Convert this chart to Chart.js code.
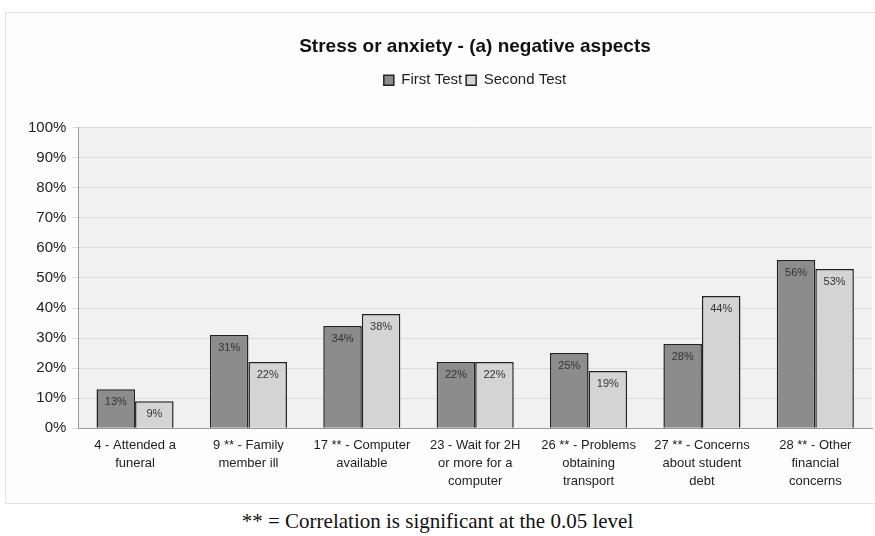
<!DOCTYPE html>
<html>
<head>
<meta charset="utf-8">
<script src="https://cdn.jsdelivr.net/npm/chart.js@4/dist/chart.umd.min.js"></script>
<style>
    body { margin: 0; background: #fff; overflow: hidden; width: 875px; height: 536px; position: relative; }
    #box { position: absolute; left: 5px; top: 12px; width: 875px; height: 490px; border: 1px solid #e2e2e2; background: #fdfdfd; overflow: hidden; }
    #box canvas { position: absolute; left: 0; top: 0; }
    #note { position: absolute; left: 0; width: 875px; top: 509px; text-align: center; font-family: "Liberation Serif", "Times New Roman", serif; font-size: 21px; color: #111; }
</style>
</head>
<body>
<div id="box"><canvas id="chart" width="870" height="490"></canvas></div>
<div id="note">** = Correlation is significant at the 0.05 level</div>
<script>
// Data
const categories = [
    ['4 - Attended a', 'funeral'],
    ['9 ** - Family', 'member ill'],
    ['17 ** - Computer', 'available'],
    ['23 - Wait for 2H', 'or more for a', 'computer'],
    ['26 ** - Problems', 'obtaining', 'transport'],
    ['27 ** - Concerns', 'about student', 'debt'],
    ['28 ** - Other', 'financial', 'concerns']
];
const firstTest = [13, 31, 34, 22, 25, 28, 56];
const secondTest = [9, 22, 38, 22, 19, 44, 53];
const yTicks = [0, 10, 20, 30, 40, 50, 60, 70, 80, 90, 100];

// Plot background
const plotBg = {
    id: 'plotBg',
    beforeDraw(chart) {
        const { ctx, chartArea: a } = chart;
        ctx.save();
        ctx.fillStyle = '#f1f1f1';
        ctx.fillRect(a.left, a.top, a.right - a.left, a.bottom - a.top);
        ctx.restore();
    }
};

// Extra gap under the legend, and title/legend centred over the plot area
const headerLayout = {
    id: 'headerLayout',
    beforeInit(chart) {
        const fit = chart.legend.fit;
        chart.legend.fit = function () {
            fit.bind(chart.legend)();
            this.height += 30;
        };
    },
    afterLayout(chart) {
        const shift = 28;
        [chart.titleBlock, chart.legend].forEach(b => {
            b.left += shift;
            b.right += shift;
        });
    }
};

// Value labels inside bars, near the top
const barLabels = {
    id: 'barLabels',
    afterDatasetsDraw(chart) {
        const { ctx } = chart;
        ctx.save();
        ctx.font = '11px "Liberation Sans", Arial, sans-serif';
        ctx.fillStyle = '#333';
        ctx.textAlign = 'center';
        ctx.textBaseline = 'middle';
        chart.data.datasets.forEach((ds, i) => {
            chart.getDatasetMeta(i).data.forEach((bar, j) => {
                ctx.fillText(ds.data[j] + '%', bar.x, bar.y + 13);
            });
        });
        ctx.restore();
    }
};

new Chart(document.getElementById('chart'), {
    type: 'bar',
    data: {
        labels: categories,
        datasets: [
            { label: 'First Test', data: firstTest, backgroundColor: '#8c8c8c', borderColor: '#222', borderWidth: 1.5 },
            { label: 'Second Test', data: secondTest, backgroundColor: '#d4d4d4', borderColor: '#222', borderWidth: 1.5 }
        ]
    },
    options: {
        responsive: false,
        animation: false,
        layout: { padding: { left: 16, right: 4, top: 0, bottom: 13 } },
        datasets: { bar: { categoryPercentage: 0.68, barPercentage: 1 } },
        plugins: {
            title: {
                display: true,
                text: 'Stress or anxiety - (a) negative aspects',
                color: '#111',
                font: { family: '"Liberation Sans", Arial, sans-serif', size: 19, weight: 'bold' },
                padding: { top: 22, bottom: 11 }
            },
            legend: {
                labels: {
                    color: '#222',
                    font: { family: '"Liberation Sans", Arial, sans-serif', size: 15 },
                    boxWidth: 10,
                    boxHeight: 10,
                    padding: 4,
                    useBorderRadius: false
                }
            },
            tooltip: { enabled: false }
        },
        scales: {
            x: {
                grid: { display: false },
                border: { color: '#999' },
                ticks: {
                    color: '#222',
                    maxRotation: 0,
                    autoSkip: false,
                    padding: 0,
                    font: { family: '"Liberation Sans", Arial, sans-serif', size: 13, lineHeight: 1.38 }
                }
            },
            y: {
                min: 0,
                max: 100,
                afterBuildTicks: (axis) => { axis.ticks = yTicks.map(v => ({ value: v })); },
                grid: { color: '#dcdcdc', tickLength: 6 },
                border: { color: '#999' },
                ticks: {
                    color: '#222',
                    padding: 6,
                    callback: v => v + '%',
                    font: { family: '"Liberation Sans", Arial, sans-serif', size: 15 }
                }
            }
        }
    },
    plugins: [plotBg, headerLayout, barLabels]
});
</script>
</body>
</html>
